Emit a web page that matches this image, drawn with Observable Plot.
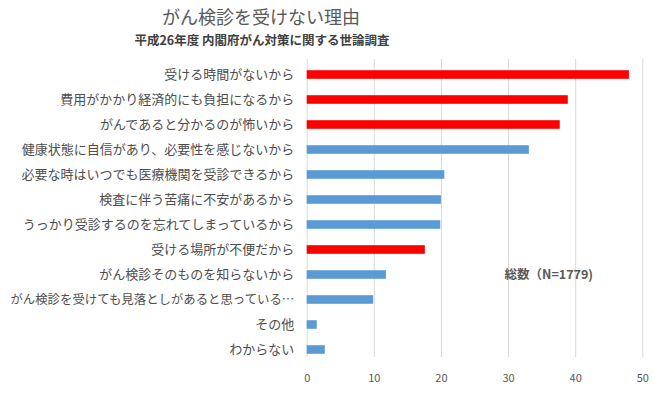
<!DOCTYPE html>
<html><head><meta charset="utf-8">
<script src="https://cdn.jsdelivr.net/npm/d3@7"></script>
<script src="https://cdn.jsdelivr.net/npm/@observablehq/plot@0.6"></script>
<style>
body{margin:0;background:#fff;font-family:"Noto Sans CJK JP",sans-serif;}
#wrap{position:relative;width:653px;height:393px;overflow:hidden;}
#title{position:absolute;left:0;width:522px;top:3px;text-align:center;font-size:18px;color:#595959;line-height:26px;}
#subtitle{position:absolute;left:0;width:524px;top:31px;text-align:center;font-size:12.5px;font-weight:bold;color:#404040;line-height:18px;}
#chart{position:absolute;left:0;top:55px;}
</style></head><body>
<div id="wrap">
<div id="title">がん検診を受けない理由</div>
<div id="subtitle">平成26年度 内閣府がん対策に関する世論調査</div>
<div id="chart"></div>
</div>
<script>
const reasons = [
  "受ける時間がないから",
  "費用がかかり経済的にも負担になるから",
  "がんであると分かるのが怖いから",
  "健康状態に自信があり、必要性を感じないから",
  "必要な時はいつでも医療機関を受診できるから",
  "検査に伴う苦痛に不安があるから",
  "うっかり受診するのを忘れてしまっているから",
  "受ける場所が不便だから",
  "がん検診そのものを知らないから",
  "がん検診を受けても見落としがあると思っている…",
  "その他",
  "わからない"
];
const percents = [48.0, 38.9, 37.7, 33.1, 20.5, 20.0, 19.9, 17.6, 11.8, 9.9, 1.5, 2.7];
const highlighted = [
  "受ける時間がないから",
  "費用がかかり経済的にも負担になるから",
  "がんであると分かるのが怖いから",
  "受ける場所が不便だから"
];
const xTicks = [0, 10, 20, 30, 40, 50];
const noteText = "総数（N=1779)";
const noteX = 29.4;
const noteRow = "がん検診そのものを知らないから";

const data = reasons.map((r, i) => ({reason: r, value: percents[i], hi: highlighted.includes(r)}));

const W = 653, H = 338;
const top0 = 17.5, bot0 = 296, step = (bot0 - top0) / (reasons.length - 1);
const chart = Plot.plot({
  width: W, height: H,
  marginLeft: 306.7, marginRight: 10.7, marginTop: 4, marginBottom: 36,
  style: {fontFamily: '"Noto Sans CJK JP", sans-serif', background: "#fff"},
  x: {domain: [0, 50], ticks: xTicks, label: null},
  y: {domain: reasons, range: [top0 - step/2, bot0 + step/2], padding: 0, label: null},
  marks: [
    Plot.gridX(xTicks, {stroke: "#d9d9d9", strokeOpacity: 1, strokeWidth: 1}),
    Plot.barX(data, {x: "value", y: "reason", fill: d => d.hi ? "#ff0000" : "#5b9bd5", insetTop: 8.2, insetBottom: 8.2}),
    Plot.axisX(xTicks, {tickSize: 0, tickPadding: 17, fontSize: 11, color: "#595959", label: null}),
    Plot.axisY({tickSize: 0, tickPadding: 13, fontSize: 13, color: "#4d4d4d", label: null, textOverflow: null, lineWidth: Infinity}),
    Plot.text([noteText], {x: () => noteX, y: () => noteRow, text: d => d, textAnchor: "start", fontSize: 12.5, fontWeight: "bold", fill: "#595959"})
  ]
});
document.getElementById("chart").appendChild(chart);
// shrink the one long label slightly so it fits, as in the reference
chart.querySelectorAll("text").forEach(t => {
  if (t.textContent === reasons[9]) t.setAttribute("font-size", "12.4");
});
</script>
</body></html>
